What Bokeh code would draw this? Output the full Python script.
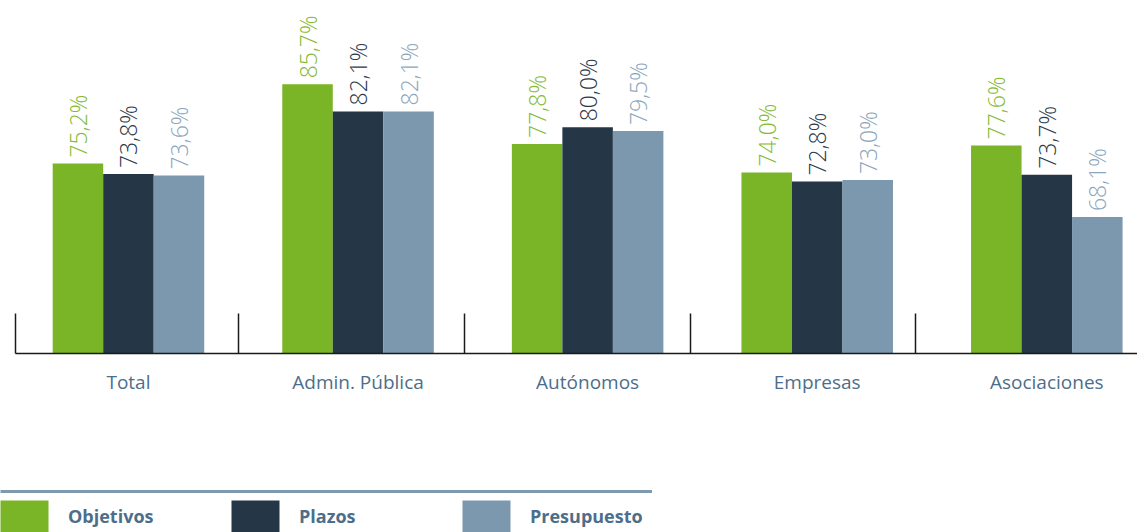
import math
from bokeh.plotting import figure
from bokeh.models import (Range1d, FixedTicker, LinearAxis, ColumnDataSource,
                          Legend, LegendItem)
from bokeh.embed import file_html
from bokeh.resources import INLINE
from bokeh.core.properties import value

# ---- data ----
categories = ["Total", "Admin. Pública", "Autónomos", "Empresas", "Asociaciones"]
series_names = ["Objetivos", "Plazos", "Presupuesto"]
objetivos = [75.2, 85.7, 77.8, 74.0, 77.6]
plazos = [73.8, 82.1, 80.0, 72.8, 73.7]
presupuesto = [73.6, 82.1, 79.5, 73.0, 68.1]
series_values = [objetivos, plazos, presupuesto]

# ---- style ----
bar_colors = ["#7ab427", "#253647", "#7b98ae"]
label_colors = ["#84bb34", "#2c3a4a", "#8ba6bc"]
axis_text_color = "#4d6e8a"
rule_color = "#7d9ab0"
LABEL_FONT = "Open Sans Light"
TEXT_FONT = "Open Sans"

# x: one unit per group; y: percent, baseline at 50
X_START, X_END = -0.5573, 4.395
AXIS_START = -0.492
Y_BASE = 50
Y_START, Y_END = 26.26, 96.82
BAR_W = 0.22
OFFSETS = [-0.22, 0.0, 0.22]
separators = [-0.49, 0.478, 1.462, 2.446, 3.426]


def fmt(v):
    return f"{v:.1f}%".replace(".", ",")


p = figure(width=1137, height=532,
           x_range=Range1d(X_START, X_END), y_range=Range1d(Y_START, Y_END),
           output_backend="svg", toolbar_location=None, y_axis_location=None,
           min_border=0)
p.outline_line_color = None
p.xgrid.visible = False
p.ygrid.visible = False
p.background_fill_color = "white"

bar_renderers = []
for vals, off, bc, lc in zip(series_values, OFFSETS, bar_colors, label_colors):
    src = ColumnDataSource(dict(
        x=[i + off for i in range(len(categories))],
        top=vals,
        label=[fmt(v) for v in vals],
    ))
    r = p.vbar(x="x", top="top", bottom=Y_BASE, width=BAR_W, source=src,
               fill_color=bc, line_color=None)
    bar_renderers.append(r)
    p.text(x="x", y="top", text="label", source=src, angle=math.pi / 2,
           text_align="left", text_baseline="middle", y_offset=-6,
           text_color=lc, text_font=value(LABEL_FONT), text_font_size="23px")

xa = p.xaxis[0]
xa.fixed_location = Y_BASE
xa.bounds = (AXIS_START, X_END)
xa.ticker = FixedTicker(ticks=separators)
xa.major_tick_in = 40
xa.major_tick_out = 0
xa.minor_tick_line_color = None
xa.major_label_text_font_size = "1px"
xa.major_label_text_color = None
xa.major_label_standoff = 0
xa.axis_line_color = "#1a1a1a"
xa.axis_line_width = 1.5
xa.major_tick_line_color = "#1a1a1a"
xa.major_tick_line_width = 1.5

ax2 = LinearAxis(ticker=FixedTicker(ticks=list(range(len(categories)))),
                 fixed_location=Y_BASE,
                 major_label_overrides={i: c for i, c in enumerate(categories)},
                 axis_line_color=None, major_tick_line_color=None,
                 minor_tick_line_color=None, major_tick_in=0, major_tick_out=0,
                 major_label_standoff=15, major_label_text_font=TEXT_FONT,
                 major_label_text_font_size="19px",
                 major_label_text_color=axis_text_color)
p.add_layout(ax2, "below")

# ---- legend: rule above, then swatches ----
rule_r = p.line(x=[X_START - 2, X_START - 1], y=[Y_BASE, Y_BASE],
                line_color=rule_color, line_width=3)
rule = Legend(items=[LegendItem(label=" ", renderers=[rule_r])],
              location=(0, 38), glyph_width=652, glyph_height=6,
              label_standoff=0, label_width=0, label_height=6,
              label_text_font_size="1px", padding=0, margin=0, spacing=0,
              border_line_color=None, background_fill_alpha=0)
p.add_layout(rule)

items = [LegendItem(label=n, renderers=[r]) for n, r in zip(series_names, bar_renderers)]
legend = Legend(items=items, orientation="horizontal", location=(-6, -4),
                glyph_width=60, glyph_height=40, label_standoff=14,
                label_width=157, spacing=0, padding=0, margin=0,
                border_line_color=None, background_fill_alpha=0,
                label_text_font=TEXT_FONT, label_text_font_style="bold",
                label_text_font_size="18px", label_text_color=axis_text_color)
p.add_layout(legend)

open("out.html", "w").write(file_html(p, INLINE))
